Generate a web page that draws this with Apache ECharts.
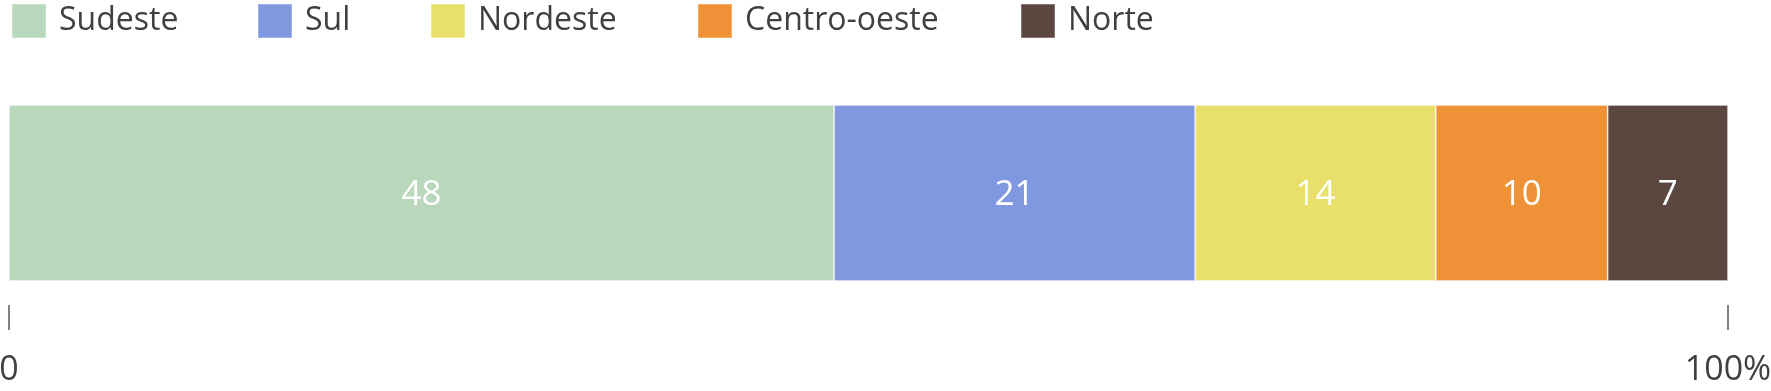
<!DOCTYPE html>
<html><head><meta charset="utf-8">
<script src="https://cdn.jsdelivr.net/npm/echarts@6/dist/echarts.min.js"></script>
<style>html,body{margin:0;padding:0;background:#fff;}#c{width:1771px;height:391px;}</style>
</head><body><div id="c"></div>
<script>
const regions = ["Sudeste", "Sul", "Nordeste", "Centro-oeste", "Norte"];
const values = [48, 21, 14, 10, 7];
const colors = ["#B9D8BB", "#7F98E0", "#E9E06B", "#EF9237", "#5C4740"];
const category = ["Brasil"];
const tickLabels = {0: "0", 100: "100%"};

const font = "'Open Sans', 'Noto Sans', sans-serif";
const textColor = "#404040";
const legendLefts = [11, 257, 430, 697, 1020];

const chart = echarts.init(document.getElementById('c'), null, {renderer: 'canvas'});
chart.setOption({
  animation: false,
  backgroundColor: '#fff',
  legend: regions.map((r, i) => ({
    data: [r], left: legendLefts[i], top: 3, padding: 0,
    itemWidth: 34, itemHeight: 34, icon: 'rect',
    textStyle: {fontFamily: font, fontSize: 32, color: textColor, padding: [0, 0, 0, 8]}
  })),
  grid: {left: 9, right: 43, top: 105, height: 176, containLabel: false, outerBoundsMode: 'none'},
  xAxis: {
    type: 'value', min: 0, max: 100, interval: 100, offset: 24,
    axisLine: {show: false},
    axisTick: {show: true, length: 25, lineStyle: {color: '#595959', width: 1.5}},
    splitLine: {show: false},
    axisLabel: {
      margin: 48, fontFamily: font, fontSize: 34, color: textColor, lineHeight: 34,
      formatter: v => tickLabels[v] !== undefined ? tickLabels[v] : ''
    }
  },
  yAxis: {type: 'category', data: category, show: false},
  series: regions.map((r, i) => ({
    name: r, type: 'bar', stack: 'total', barWidth: '100%',
    data: [values[i]],
    itemStyle: {color: colors[i], borderColor: 'rgba(255,255,255,0.25)', borderWidth: 1},
    label: {show: true, position: 'inside', offset: [0, 2], color: '#fff', fontFamily: font, fontSize: 35}
  }))
});
</script></body></html>
